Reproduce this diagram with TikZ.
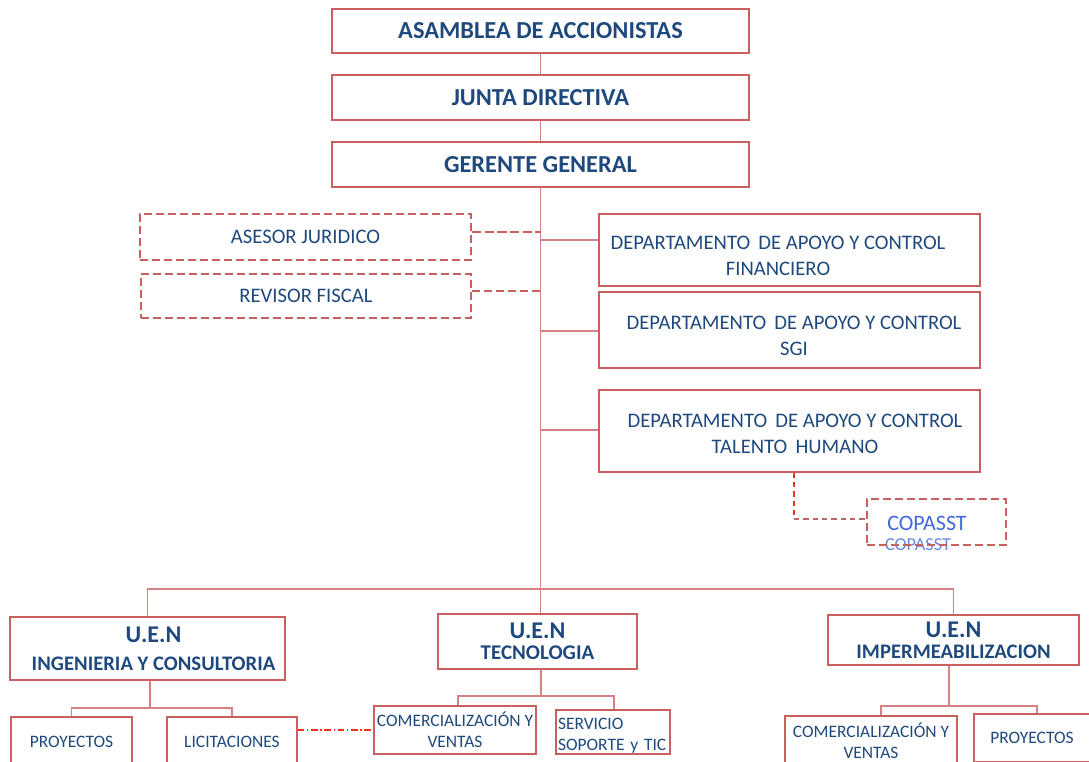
\documentclass[tikz,border=0pt]{standalone}
\usepackage{fontspec}
\setmainfont{Carlito}
\definecolor{edge}{RGB}{200,96,96}
\definecolor{wire}{RGB}{214,130,130}
\definecolor{ink}{RGB}{31,73,125}
\definecolor{copblue}{RGB}{66,104,222}
\definecolor{hotred}{RGB}{240,50,30}
\begin{document}
\begin{tikzpicture}[x=0.75pt,y=-0.75pt,
  box/.style={draw=edge,line width=0.9pt,inner sep=0pt,align=center,text=ink},
  dbox/.style={box,dashed,line width=1.6pt,dash pattern=on 6pt off 3pt},
  head/.style={font=\fontsize{18.3}{20}\selectfont\bfseries},
  dept/.style={font=\fontsize{15.5}{19.5}\selectfont},
  txt/.style={inner sep=0pt,align=center,text=ink},
  uen/.style={font=\fontsize{15.5}{21}\selectfont\bfseries},
  uentwo/.style={font=\fontsize{15.5}{16}\selectfont\bfseries},
  small/.style={font=\fontsize{13.1}{15.8}\selectfont},
  link/.style={draw=wire,line width=0.8pt}]
\useasboundingbox (0,0) rectangle (1089,762);

% top of the hierarchy
\node[box,head,minimum width=417*0.75pt,minimum height=44*0.75pt] (asam) at (540.5,31) {ASAMBLEA DE ACCIONISTAS};
\node[box,head,minimum width=417*0.75pt,minimum height=45*0.75pt] (junta) at (540.5,97.5) {JUNTA DIRECTIVA};
\node[box,head,minimum width=417*0.75pt,minimum height=45*0.75pt] (ger) at (540.5,164.5) {GERENTE GENERAL};

% advisory boxes
\node[dbox,dept,minimum width=331*0.75pt,minimum height=46*0.75pt] (ases) at (305.5,237) {ASESOR JURIDICO};
\node[dbox,dept,minimum width=330*0.75pt,minimum height=44*0.75pt] (rev) at (306,296) {REVISOR FISCAL};

% support departments
\node[box,minimum width=381*0.75pt,minimum height=72*0.75pt,
  label={[txt,dept,xshift=-11.5*0.75pt,yshift=-5.5*0.75pt]center:DEPARTAMENTO\, DE APOYO Y CONTROL\\FINANCIERO}] (fin) at (789.5,250) {};
\node[box,minimum width=381*0.75pt,minimum height=76*0.75pt,
  label={[txt,dept,xshift=4.5*0.75pt,yshift=-5.5*0.75pt]center:DEPARTAMENTO\, DE APOYO Y CONTROL\\SGI}] (sgi) at (789.5,330) {};
\node[box,minimum width=381*0.75pt,minimum height=82*0.75pt,
  label={[txt,dept,xshift=5.5*0.75pt,yshift=-2.5*0.75pt]center:DEPARTAMENTO\, DE APOYO Y CONTROL\\TALENTO\, HUMANO}] (tal) at (789.5,431) {};

% committee
\node[text=copblue!80,font=\fontsize{13.7}{14}\selectfont] (copb) at (918,545) {COPASST};
\node[dbox,minimum width=139*0.75pt,minimum height=46*0.75pt] (cop) at (936.5,522) {};
\node[text=copblue,font=\fontsize{16.5}{18}\selectfont] (copt) at (927,523) {COPASST};

% business units
\node[box,minimum width=275*0.75pt,minimum height=63*0.75pt,
  label={[txt,uen,xshift=6*0.75pt]center:{\fontsize{18}{21}\selectfont U.E.N}\\INGENIERIA Y CONSULTORIA}] (ing) at (147.5,648.5) {};
\node[box,uentwo,minimum width=199*0.75pt,minimum height=55*0.75pt] (tec) at (537.5,641.5) {\fontsize{18}{16}\selectfont U.E.N\\\fontsize{15.7}{16}\selectfont TECNOLOGIA};
\node[box,uentwo,minimum width=251*0.75pt,minimum height=50*0.75pt] (imp) at (953.5,640) {\fontsize{18}{16}\selectfont U.E.N\\\fontsize{15.5}{16}\selectfont IMPERMEABILIZACION};

% units below each business unit
\node[box,small,minimum width=121*0.75pt,minimum height=49*0.75pt] (pro1) at (71.5,741.5) {PROYECTOS};
\node[box,small,minimum width=130*0.75pt,minimum height=49*0.75pt] (lic) at (232,741.5) {LICITACIONES};
\node[box,small,minimum width=162*0.75pt,minimum height=48*0.75pt] (com1) at (455,730) {COMERCIALIZACIÓN Y\\VENTAS};
\node[box,minimum width=114*0.75pt,minimum height=44*0.75pt,
  label={[txt,small,align=left,text width=110*0.75pt,yshift=-3.5*0.75pt]center:SERVICIO\\SOPORTE y TIC}] (serv) at (613,732) {};
\node[box,small,minimum width=172*0.75pt,minimum height=49*0.75pt] (com2) at (871,740.5) {COMERCIALIZACIÓN Y\\VENTAS};
\node[box,small,minimum width=116*0.75pt,minimum height=48*0.75pt] (pro2) at (1032,738) {PROYECTOS};

% main trunk
\draw[link] (asam.south) -- (junta.north);
\draw[link] (junta.south) -- (ger.north);
\draw[link] (ger.south) -- (ger.south |- tec.north);

% side branches from the trunk
\coordinate (mA) at (541,232);
\coordinate (mR) at (541,291);
\coordinate (mF) at (541,240);
\coordinate (mS) at (541,331);
\coordinate (mT) at (541,430);
\draw[edge,line width=2.2pt,dash pattern=on 7pt off 2.5pt] (mA -| ases.east) -- (mA);
\draw[edge,line width=1.5pt,dash pattern=on 6pt off 3pt] (mR -| rev.east) -- (mR);
\draw[link] (mF) -- (mF -| fin.west);
\draw[link] (mS) -- (mS -| sgi.west);
\draw[link] (mT) -- (mT -| tal.west);

% committee link
\coordinate (cbend) at (794,519);
\draw[hotred,line width=0.9pt,dash pattern=on 4pt off 3pt] (tal.south -| cbend) -- (cbend);
\draw[edge!80!gray,line width=0.9pt,dash pattern=on 4pt off 3pt] (cbend) -- (cbend -| cop.west);

% business unit bus
\coordinate (ubus) at (541,589);
\draw[link] (ing.north) |- (ubus) -| (imp.north);

% bus under INGENIERIA
\coordinate (ibus) at (150,708);
\draw[link] (ing.south -| ibus) -- (ibus);
\draw[link] (pro1.north) |- (ibus) -| (lic.north);

% bus under TECNOLOGIA
\coordinate (tbus) at (541,696);
\coordinate (tl) at (458,696);
\coordinate (tr) at (614,696);
\draw[link] (tec.south -| tbus) -- (tbus);
\draw[link] (tl |- com1.north) -- (tl) -- (tr) -- (tr |- serv.north);

% bus under IMPERMEABILIZACION
\coordinate (mbus) at (949,706);
\coordinate (ml) at (881,706);
\coordinate (mr) at (1037,706);
\draw[link] (imp.south -| mbus) -- (mbus);
\draw[link] (ml |- com2.north) -- (ml) -- (mr) -- (mr |- pro2.north);

% cross link between LICITACIONES and sales
\draw[hotred,line width=0.9pt,dash pattern=on 5pt off 2pt on 1pt off 2pt] (lic.east |- com1.west) -- (com1.west);
\end{tikzpicture}
\end{document}
